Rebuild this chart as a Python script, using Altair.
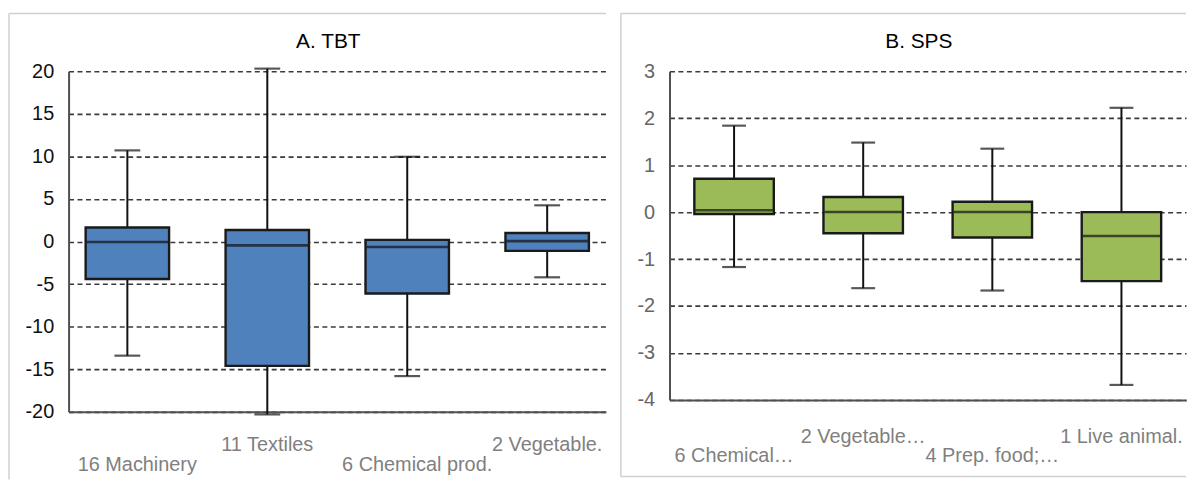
import altair as alt
import pandas as pd

# Panel A: TBT
categories_a = ["16 Machinery", "11 Textiles", "6 Chemical prod.", "2 Vegetable."]
lo_a = [-13.4, -20.3, -15.8, -4.2]
q1_a = [-4.4, -14.6, -6.1, -1.1]
med_a = [-0.05, -0.45, -0.65, 0.05]
q3_a = [1.65, 1.35, 0.2, 1.0]
hi_a = [10.7, 20.3, 9.95, 4.25]
ticks_a = [-20, -15, -10, -5, 0, 5, 10, 15, 20]

# Panel B: SPS
categories_b = ["6 Chemical…", "2 Vegetable…", "4 Prep. food;…", "1 Live animal."]
lo_b = [-1.17, -1.62, -1.67, -3.68]
q1_b = [-0.04, -0.45, -0.54, -1.47]
med_b = [0.04, 0.0, 0.0, -0.51]
q3_b = [0.71, 0.32, 0.22, 0.0]
hi_b = [1.84, 1.48, 1.35, 2.22]
ticks_b = [-4, -3, -2, -1, 0, 1, 2, 3]

FONT = "Liberation Sans"


def panel(title, cats, lo, q1, med, q3, hi, ticks, color, W, H, pad,
          tick_color, row_up, row_low, low_dx, box_w, cap_w, frame_left,
          frame_bottom, draw_bottom):
    df = pd.DataFrame(dict(cat=cats, lo=lo, q1=q1, med=med, q3=q3, hi=hi))
    xenc = alt.X("cat:N", sort=cats,
                 scale=alt.Scale(type="point", padding=pad),
                 axis=alt.Axis(labels=False, ticks=False, title=None, grid=False,
                               domainColor="#505050", domainWidth=2))
    yscale = alt.Scale(domain=[ticks[0], ticks[-1]], nice=False, zero=False)
    yaxis = alt.Axis(values=ticks, title=None, ticks=False, labelPadding=15,
                     labelFontSize=20, labelFont=FONT, labelColor=tick_color,
                     labelExpr="'' + datum.value",
                     grid=True, gridDash=[5, 3.5], gridColor="#3a3a3a",
                     gridWidth=1.6, domainColor="#505050", domainWidth=2)

    def Y(f):
        return alt.Y(f, scale=yscale, axis=yaxis)

    base = alt.Chart(df)
    whisk = base.mark_rule(color="#111111", strokeWidth=2).encode(
        x=xenc, y=Y("lo:Q"), y2="hi:Q")
    box = base.mark_bar(size=box_w, fill=color, stroke="#1a1a1a",
                        strokeWidth=2.4).encode(x=xenc, y=Y("q1:Q"), y2="q3:Q")
    medt = base.mark_tick(size=box_w - 2, thickness=2.6, color="#111111").encode(
        x=xenc, y=Y("med:Q"))
    caplo = base.mark_tick(size=cap_w, thickness=2.2, color="#111111").encode(
        x=xenc, y=Y("lo:Q"))
    caphi = base.mark_tick(size=cap_w, thickness=2.2, color="#111111").encode(
        x=xenc, y=Y("hi:Q"))

    lab_up = base.transform_filter(
        alt.FieldOneOfPredicate(field="cat", oneOf=cats[1::2])
    ).mark_text(fontSize=20, font=FONT, color="#808080", baseline="middle").encode(
        x=xenc, y=alt.value(row_up), text="cat:N")
    lab_low = base.transform_filter(
        alt.FieldOneOfPredicate(field="cat", oneOf=cats[0::2])
    ).mark_text(fontSize=20, font=FONT, color="#808080", baseline="middle",
                dx=low_dx).encode(
        x=xenc, y=alt.value(row_low), text="cat:N")

    fdf = pd.DataFrame({"k": [0]})
    fc = alt.Chart(fdf).mark_rule(color="#d0d0d0", strokeWidth=1.5)
    top = fc.encode(x=alt.value(frame_left), x2=alt.value(W), y=alt.value(-58))
    left = fc.encode(x=alt.value(frame_left), y=alt.value(-58),
                     y2=alt.value(frame_bottom))
    ttl = alt.Chart(fdf).mark_text(text=title, fontSize=21, font=FONT,
                                   color="#000000", baseline="alphabetic",
                                   align="center").encode(
        x=alt.value(W / 2 - 9), y=alt.value(-23))
    layers = [top, left, whisk, box, medt, caplo, caphi, lab_up, lab_low, ttl]
    if draw_bottom:
        bottom = fc.encode(x=alt.value(frame_left), x2=alt.value(W),
                           y=alt.value(frame_bottom))
        layers.insert(2, bottom)

    return alt.layer(*layers).properties(width=W, height=H)


left_chart = panel("A. TBT", categories_a, lo_a, q1_a, med_a, q3_a, hi_a, ticks_a,
                   "#4f81bd", 541, 343, 0.42, "#111111", 376, 397, 10, 84, 26,
                   -60, 411, False)
right_chart = panel("B. SPS", categories_b, lo_b, q1_b, med_b, q3_b, hi_b, ticks_b,
                    "#9bbb59", 520, 331, 0.5, "#666666", 368, 387, 0, 80, 24,
                    -49, 408, True)

chart = alt.hconcat(left_chart, right_chart, spacing=64, bounds="flush").properties(
    padding={"left": 0, "top": 3, "right": 0, "bottom": 0}
).configure_view(stroke=None)

chart.save("out.html", embed_options={"renderer": "svg", "actions": False})
